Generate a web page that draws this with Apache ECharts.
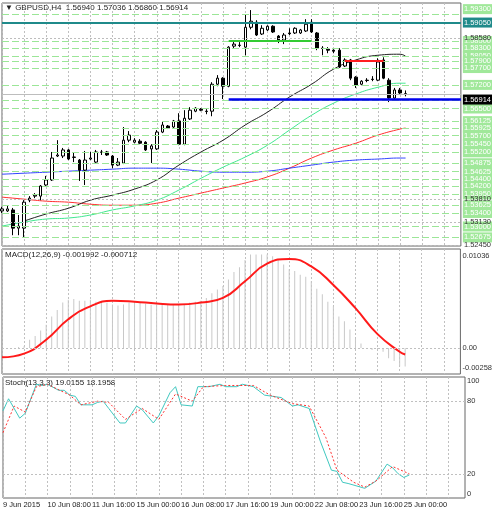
<!DOCTYPE html>
<html>
<head>
<meta charset="utf-8">
<script src="https://cdn.jsdelivr.net/npm/echarts@6/dist/echarts.min.js"></script>
<style>
  html, body { margin: 0; padding: 0; background: #fff; }
  #chart { width: 495px; height: 510px; }
</style>
</head>
<body>
<div id="chart"></div>
<script>
// GBPUSD H4, candles as [open, close, high, low]
const candles = [
  [1.5346,1.5352,1.5358,1.5340],[1.5346,1.5352,1.5361,1.5343],[1.5349,1.5295,1.5355,1.5274],[1.5295,1.5301,1.5334,1.5274],
  [1.5295,1.5372,1.5378,1.5266],[1.5378,1.5384,1.5390,1.5372],[1.5390,1.5393,1.5399,1.5384],[1.5390,1.5420,1.5423,1.5378],
  [1.5423,1.5438,1.5450,1.5420],[1.5438,1.5503,1.5521,1.5435],[1.5509,1.5512,1.5556,1.5506],[1.5509,1.5527,1.5533,1.5503],
  [1.5527,1.5500,1.5530,1.5497],[1.5506,1.5505,1.5518,1.5491],[1.5497,1.5467,1.5500,1.5435],[1.5467,1.5497,1.5524,1.5423],
  [1.5500,1.5503,1.5521,1.5497],[1.5491,1.5521,1.5527,1.5488],[1.5521,1.5520,1.5527,1.5512],[1.5521,1.5512,1.5524,1.5509],
  [1.5509,1.5482,1.5512,1.5473],[1.5482,1.5491,1.5503,1.5479],[1.5488,1.5556,1.5595,1.5485],[1.5556,1.5571,1.5583,1.5550],
  [1.5550,1.5556,1.5562,1.5547],[1.5553,1.5547,1.5559,1.5544],[1.5550,1.5527,1.5553,1.5524],[1.5530,1.5539,1.5544,1.5488],
  [1.5530,1.5580,1.5586,1.5527],[1.5580,1.5601,1.5610,1.5577],[1.5598,1.5592,1.5601,1.5589],[1.5595,1.5613,1.5616,1.5592],
  [1.5613,1.5544,1.5636,1.5541],[1.5544,1.5621,1.5645,1.5541],[1.5619,1.5645,1.5654,1.5616],[1.5642,1.5651,1.5654,1.5639],
  [1.5648,1.5645,1.5651,1.5642],[1.5642,1.5641,1.5648,1.5633],[1.5642,1.5722,1.5728,1.5627],[1.5722,1.5740,1.5749,1.5716],
  [1.5740,1.5716,1.5743,1.5678],[1.5716,1.5832,1.5835,1.5713],[1.5835,1.5841,1.5853,1.5829],[1.5838,1.5837,1.5847,1.5832],
  [1.5832,1.5891,1.5930,1.5808],[1.5891,1.5909,1.5942,1.5885],[1.5906,1.5868,1.5912,1.5865],[1.5871,1.5888,1.5897,1.5868],
  [1.5883,1.5894,1.5897,1.5880],[1.5894,1.5877,1.5897,1.5874],[1.5865,1.5853,1.5868,1.5844],[1.5853,1.5868,1.5874,1.5841],
  [1.5874,1.5872,1.5888,1.5868],[1.5874,1.5888,1.5891,1.5871],[1.5874,1.5883,1.5886,1.5871],[1.5880,1.5900,1.5915,1.5877],
  [1.5906,1.5877,1.5915,1.5874],[1.5874,1.5829,1.5877,1.5823],[1.5829,1.5828,1.5835,1.5808],[1.5826,1.5823,1.5832,1.5814],
  [1.5823,1.5820,1.5826,1.5814],[1.5823,1.5773,1.5829,1.5770],[1.5776,1.5794,1.5799,1.5773],[1.5794,1.5740,1.5797,1.5734],
  [1.5743,1.5719,1.5746,1.5711],[1.5722,1.5731,1.5734,1.5719],[1.5734,1.5733,1.5740,1.5728],[1.5737,1.5736,1.5746,1.5731],
  [1.5734,1.5788,1.5799,1.5731],[1.5794,1.5740,1.5802,1.5737],[1.5734,1.5681,1.5740,1.5669],[1.5681,1.5705,1.5711,1.5678],
  [1.5705,1.5696,1.5711,1.5693],[1.5694,1.56914,1.57036,1.5686]
];

// moving averages, read every 4th bar
const maIdx   = [0,4,8,12,16,20,24,28,32,36,40,44,48,52,56,60,64,68,72,73];
const maBlack = ['-',1.5316,1.5337,1.5354,1.5378,1.5393,1.5411,1.5438,1.5482,1.5521,1.5556,1.5601,1.5639,1.5684,1.5722,1.5767,1.5794,1.5808,1.5811,1.5805];
const maGreen = [1.5301,1.5313,1.5322,1.5325,1.5334,1.5349,1.5361,1.5378,1.5408,1.5443,1.5476,1.5506,1.5541,1.5586,1.5630,1.5666,1.5693,1.5713,1.5725,1.5725];
const maRed   = [1.5387,1.5381,1.5375,1.5372,1.5366,1.5363,1.5363,1.5369,1.5384,1.5399,1.5414,1.5429,1.5447,1.5473,1.5503,1.5527,1.5547,1.5571,1.5589,1.5592];
const maBlue  = [1.5455,1.5458,1.5461,1.5464,1.5467,1.5470,1.5473,1.5473,1.5470,1.5464,1.5461,1.5461,1.5464,1.5473,1.5482,1.5491,1.5497,1.5500,1.5503,1.5503];

const macdHist = [0,0,0,0.0001,0.0002,0.0009,0.0013,0.0019,0.0025,0.0034,0.0041,0.0049,0.0052,0.0053,0.0051,0.0051,
  0.0052,0.0050,0.0051,0.0049,0.0047,0.0046,0.0047,0.0049,0.0050,0.0049,0.0048,0.0047,0.0047,0.0048,0.0047,0.0047,
  0.0047,0.0047,0.0049,0.0050,0.0051,0.0054,0.0059,0.0063,0.0067,0.0074,0.0082,0.0087,0.0095,0.0101,0.0101,0.0101,
  0.0101,0.0099,0.0095,0.0090,0.0085,0.0083,0.0079,0.0077,0.0072,0.0064,0.0058,0.0050,0.0045,0.0034,0.0029,0.0020,
  0.0010,0.0005,0.0000,-0.0002,-0.0001,-0.0004,-0.0011,-0.0014,-0.0020,-0.0020];
const macdSignal = [-0.0010,-0.0006,0.0009,0.0031,0.0045,0.0051,0.0050,0.0048,0.0047,0.0049,0.0054,0.0072,0.0091,0.0096,0.0088,0.0068,0.0043,0.0015,-0.0004,-0.0007];

const stochMainPts = [[0,72],[1,82],[3,66],[4,70],[6,94],[7,93],[8,94],[10,89],[11,89],[12,85],[13,84],[14,77],[16,77],[17,79],
  [18,80],[19,74],[21,62],[22,62],[24,76],[25,73],[27,62],[28,68],[30,87],[31,92],[32,77],[34,76],[35,92],[37,92],[39,94],
  [40,92],[42,92],[43,94],[45,92],[47,85],[50,83],[52,76],[53,77],[55,74],[57,47],[59,23],[60,22],[61,13],[62,12],[65,8],
  [67,14],[69,28],[70,25],[71,20],[72,17],[73,19]];
const stochSigPts = [[0,54],[2,76],[4,71],[6,92],[8,94],[12,85],[14,77],[17,80],[19,79],[22,65],[25,74],[28,65],[31,86],
  [34,80],[36,92],[40,93],[45,93],[48,85],[52,78],[55,76],[58,50],[60,23],[63,13],[65,9],[67,14],[70,26],[73,20]];

const tickLabels = ['9 Jun 2015','10 Jun 08:00','11 Jun 16:00','15 Jun 00:00','16 Jun 08:00','17 Jun 16:00','19 Jun 00:00','22 Jun 08:00','23 Jun 16:00','25 Jun 00:00'];

const greenLevels = [1.5930,1.5850,1.5830,1.5805,1.5790,1.5770,1.5720,1.5675,1.5650,1.56125,1.55925,1.5570,1.5545,1.5520,
  1.54875,1.54625,1.5440,1.5420,1.5395,1.53625,1.5340,1.5300,1.52675];
const grayLevels = [1.5858,1.5381,1.5313,1.5245];
const tealLevel = 1.5905;
const lastPrice = 1.56914;
const macdTicks = [-0.00258, 0, 0.01036];
const stochTicks = [0, 20, 80, 100];

const N = 84;
const cats = [];
for (let i = 0; i < N; i++) cats.push(i % 8 === 0 && i / 8 < tickLabels.length ? tickLabels[i / 8] : 'b' + i);

const sparse = (idx, vals) => { const out = new Array(74).fill('-'); idx.forEach((k, j) => out[k] = vals[j]); return out; };
const sparsePts = (pts) => { const out = new Array(74).fill('-'); pts.forEach(p => out[p[0]] = p[1]); return out; };

const FONT = 'Liberation Sans';
const near = (a, b) => Math.abs(a - b) < 1e-7;

const mk = (v, color, type, width) => ({ yAxis: v, lineStyle: { color: color, type: type, width: width } });
const levelLines = [];
greenLevels.forEach(v => levelLines.push(mk(v, '#9be697', [7, 3], 1)));
grayLevels.forEach(v => levelLines.push(mk(v, '#bdbdbd', [2, 2], 1)));
levelLines.push(mk(lastPrice, '#bdbdbd', 'solid', 1));
levelLines.push(mk(tealLevel, '#1f8a8a', 'solid', 2));
// drawn levels
const seg = (a, b, v, col, w) => [
  { coord: [a, v], lineStyle: { color: col, width: w, type: 'solid' } },
  { coord: [b, v] }
];
const drawnLines = [
  seg(41, 56, 1.5850, '#33cc33', 2),
  seg(62, 69, 1.5791, '#ff2020', 2),
  seg(41, 83, 1.5678, '#0000ee', 2.5)
];

const chart = echarts.init(document.getElementById('chart'), null, { renderer: 'canvas' });

const xBase = (gi, showLabels) => ({
  type: 'category', gridIndex: gi, data: cats, boundaryGap: false,
  axisLine: { show: false }, axisTick: { show: false },
  axisLabel: {
    show: showLabels, interval: 7, fontSize: 7.5, fontFamily: FONT, color: '#222',
    align: 'left', margin: 3, formatter: (v) => (v.charAt(0) === 'b' ? '' : v)
  },
  splitLine: { show: true, interval: 3, lineStyle: { color: '#c0c0c0', type: [2, 2], width: 1 } }
});
const box = (bg, col) => ({ backgroundColor: bg, color: col, padding: [1, 1], fontSize: 7.5, fontFamily: FONT });
const yBase = (gi, min, max, ticks, fmt) => ({
  type: 'value', gridIndex: gi, min: min, max: max, position: 'right',
  axisLine: { show: false }, axisTick: { show: false }, splitLine: { show: false },
  axisLabel: {
    customValues: ticks, formatter: fmt, margin: 2, fontSize: 7.5, fontFamily: FONT, color: '#333', align: 'left',
    showMinLabel: true, showMaxLabel: true, verticalAlignMaxLabel: 'top', verticalAlignMinLabel: 'bottom',
    rich: { g: box('#a0e89a', '#fff'), t: box('#1f8a8a', '#fff'), k: box('#000', '#fff'), p: { color: '#333', fontSize: 7.5, fontFamily: FONT, padding: [1, 1] } }
  }
});
const priceTicks = greenLevels.concat(grayLevels, [tealLevel, lastPrice]);
const priceFmt = (v) => {
  const s = v.toFixed(5);
  if (near(v, tealLevel)) return '{t|' + s + '}';
  if (near(v, lastPrice)) return '{k|' + s + '}';
  if (greenLevels.some(g => near(g, v))) return '{g|' + s + '}';
  return '{p|' + s + '}';
};
const txt = (top, text) => ({ type: 'text', left: 5, top: top, style: { text: text, fontSize: 8, fontFamily: FONT, fill: '#222' } });

const option = {
  animation: false,
  backgroundColor: '#fff',
  grid: [
    { left: 2, right: 30, top: 3, height: 243, show: true, borderColor: '#666', borderWidth: 1 },
    { left: 2, right: 30, top: 249, height: 125, show: true, borderColor: '#666', borderWidth: 1 },
    { left: 2, right: 30, top: 377, height: 121, show: true, borderColor: '#666', borderWidth: 1 }
  ],
  graphic: [
    txt(4, '▼ GBPUSD,H4  1.56940 1.57036 1.56860 1.56914'),
    txt(251, 'MACD(12,26,9) -0.001992 -0.000712'),
    txt(379, 'Stoch(13,3,3) 19.0155 18.1958')
  ],
  xAxis: [xBase(0, false), xBase(1, false), xBase(2, true)],
  yAxis: [
    yBase(0, 1.5242, 1.5963, priceTicks, priceFmt),
    yBase(1, -0.0028, 0.01068, macdTicks, (v) => (v === 0 ? '0.00' : v.toFixed(5))),
    yBase(2, 0, 100, stochTicks, (v) => String(v))
  ],
  series: [
    {
      type: 'line', xAxisIndex: 0, yAxisIndex: 0, data: [], z: 1,
      markLine: { silent: true, symbol: 'none', animation: false, precision: 6, label: { show: false }, data: levelLines }
    },
    { type: 'line', xAxisIndex: 0, yAxisIndex: 0, data: sparse(maIdx, maRed), connectNulls: true, smooth: true, symbol: 'none', lineStyle: { color: '#ff3030', width: 1 }, z: 2 },
    { type: 'line', xAxisIndex: 0, yAxisIndex: 0, data: sparse(maIdx, maBlue), connectNulls: true, smooth: true, symbol: 'none', lineStyle: { color: '#3344ff', width: 1 }, z: 2 },
    { type: 'line', xAxisIndex: 0, yAxisIndex: 0, data: sparse(maIdx, maGreen), connectNulls: true, smooth: true, symbol: 'none', lineStyle: { color: '#40e890', width: 1 }, z: 2 },
    { type: 'line', xAxisIndex: 0, yAxisIndex: 0, data: sparse(maIdx, maBlack), connectNulls: true, smooth: true, symbol: 'none', lineStyle: { color: '#222', width: 1 }, z: 2 },
    {
      type: 'candlestick', xAxisIndex: 0, yAxisIndex: 0, barWidth: 3, z: 3,
      data: candles.map(c => [c[0], c[1], c[3], c[2]]),
      itemStyle: { color: '#fff', color0: '#000', borderColor: '#000', borderColor0: '#000', borderWidth: 1 },
      markLine: { silent: true, symbol: 'none', animation: false, precision: 6, label: { show: false }, data: drawnLines }
    },
    {
      type: 'bar', xAxisIndex: 1, yAxisIndex: 1, data: macdHist, barWidth: 1, itemStyle: { color: '#c8c8c8' },
      markLine: {
        silent: true, symbol: 'none', label: { show: false },
        data: [{ yAxis: 0, lineStyle: { color: '#c0c0c0', type: [2, 2], width: 1 } }]
      }
    },
    { type: 'line', xAxisIndex: 1, yAxisIndex: 1, data: sparse(maIdx, macdSignal), connectNulls: true, smooth: true, symbol: 'none', lineStyle: { color: '#ff1a1a', width: 2 } },
    {
      type: 'line', xAxisIndex: 2, yAxisIndex: 2, data: sparsePts(stochMainPts), connectNulls: true, symbol: 'none',
      lineStyle: { color: '#40c8c0', width: 1 },
      markLine: {
        silent: true, symbol: 'none', label: { show: false },
        data: [
          { yAxis: 80, lineStyle: { color: '#c0c0c0', type: [2, 2], width: 1 } },
          { yAxis: 20, lineStyle: { color: '#c0c0c0', type: [2, 2], width: 1 } }
        ]
      }
    },
    { type: 'line', xAxisIndex: 2, yAxisIndex: 2, data: sparsePts(stochSigPts), connectNulls: true, symbol: 'none', lineStyle: { color: '#ff3030', width: 1, type: [2, 2] } }
  ]
};

chart.setOption(option);
</script>
</body>
</html>
